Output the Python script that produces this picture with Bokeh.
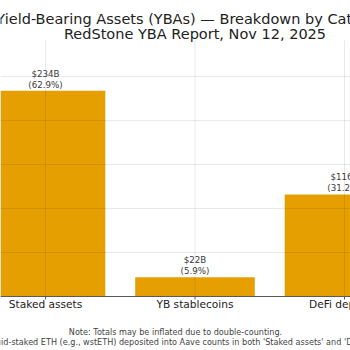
from bokeh.plotting import figure
from bokeh.models import Range1d, Label, LabelSet, ColumnDataSource
from bokeh.core.properties import value
from bokeh.embed import file_html
from bokeh.resources import INLINE

# ---- data ----
categories = ["Staked assets", "YB stablecoins", "DeFi deposits"]
values_b = [234, 22, 116]          # USD billions
shares_pct = [62.9, 5.9, 31.2]     # share of total, %
y_ticks = [0, 50, 100, 150, 200, 250]
y_top = 291                        # upper limit of the value axis
title_lines = ["Yield-Bearing Assets (YBAs) \u2014 Breakdown by Category",
               "RedStone YBA Report, Nov 12, 2025"]
note_lines = ["Note: Totals may be inflated due to double-counting.",
              "Example: liquid-staked ETH (e.g., wstETH) deposited into Aave counts in both "
              "'Staked assets' and 'DeFi deposits'."]

FONT = "DejaVu Sans"
BAR = "#E69F00"
AXIS = "#5a5a5a"

# layout: the frame fills the whole 350x350 canvas; value 0 sits 54 px above the bottom,
# the axes top (y_top) 40 px below the top edge.
H = 350
k = (H - 40 - 54) / y_top          # px per unit
xr = Range1d(-0.301, -0.301 + 350 / 149.5)
yr = Range1d(-54 / k, (H - 54) / k)

xs = list(range(len(categories)))
labels = [f"${v}B\n({s}%)" for v, s in zip(values_b, shares_pct)]
src = ColumnDataSource(dict(x=xs, top=values_b, label=labels, cat=categories))

p = figure(width=350, height=H, output_backend="svg", toolbar_location=None,
           x_range=xr, y_range=yr, x_axis_location=None, y_axis_location=None,
           min_border=0)
p.outline_line_color = None
p.xgrid.visible = False
p.ygrid.visible = False
p.background_fill_color = "white"
p.border_fill_color = "white"

# bars
p.vbar(x="x", top="top", width=0.8, source=src, fill_color=BAR, line_color=None)

# grid (drawn over bars, as in the reference)
GRID = dict(line_color="#000000", line_alpha=0.09, line_width=1)
p.segment(x0=[xr.start] * len(y_ticks), x1=[xr.end] * len(y_ticks),
          y0=y_ticks, y1=y_ticks, **GRID)
p.segment(x0=xs, x1=xs, y0=[0] * len(xs), y1=[y_top] * len(xs), **GRID)

# x axis line and ticks
p.segment(x0=[xr.start], x1=[xr.end], y0=[0], y1=[0], line_color=AXIS, line_width=1)
p.segment(x0=xs, x1=xs, y0=[0] * len(xs), y1=[-3 / k] * len(xs), line_color=AXIS, line_width=1)

# value labels
p.text(x="x", y="top", text="label", source=src, text_align="center",
       text_baseline="bottom", y_offset=-1, text_font=value(FONT),
       text_font_size="8.7px", text_color="#3a3a3a", text_line_height=1.1)

# category labels
p.add_layout(LabelSet(x="x", y=H - 307.3, y_units="screen", text="cat", source=src,
                      text_align="center", text_baseline="alphabetic",
                      text_font=value(FONT), text_font_size=value("10.6px"),
                      text_color=value("#222222")))

# titles (centred over the axes)
for i, t in enumerate(title_lines):
    p.add_layout(Label(x=1.0, y=H - 18 - 15 * i, x_units="data", y_units="screen", text=t,
                       text_align="center", text_baseline="alphabetic",
                       text_font=FONT, text_font_size="14.5px", text_color="#222222"))
# footnote (centred on the figure)
for i, t in enumerate(note_lines):
    p.add_layout(Label(x=175, y=H - 331.7 - 10 * i, x_units="screen", y_units="screen", text=t,
                       text_align="center", text_baseline="alphabetic",
                       text_font=FONT, text_font_size="8.1px", text_color="#444444"))

open("out.html", "w").write(file_html(p, INLINE))
